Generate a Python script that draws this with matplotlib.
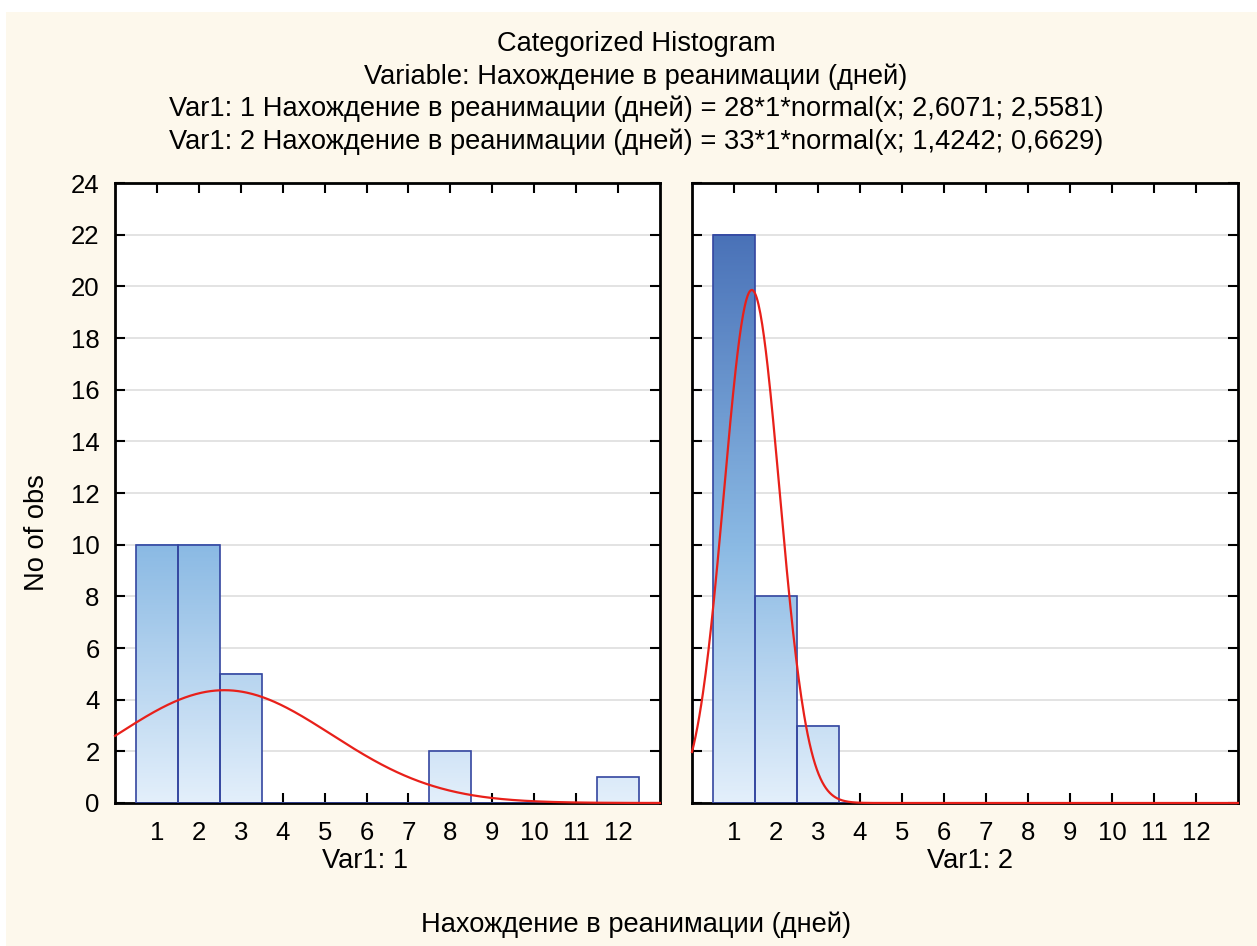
import matplotlib
matplotlib.use('Agg')
import matplotlib.pyplot as plt
from matplotlib.colors import LinearSegmentedColormap
from matplotlib.patches import Rectangle
import numpy as np

plt.rcParams['font.family'] = ['Liberation Sans', 'DejaVu Sans']

# data
days = [1, 2, 3, 4, 5, 6, 7, 8, 9, 10, 11, 12]
counts_1 = [10, 10, 5, 0, 0, 0, 0, 2, 0, 0, 0, 1]
counts_2 = [22, 8, 3, 0, 0, 0, 0, 0, 0, 0, 0, 0]
# fitted normal curves (n, mean, sd) as printed in the title
fit_1 = (28, 2.6071, 2.5581)
fit_2 = (33, 1.4242, 0.6629)
panel_labels = ['Var1: 1', 'Var1: 2']
title_lines = [
    'Categorized Histogram',
    'Variable: Нахождение в реанимации (дней)',
    'Var1: 1 Нахождение в реанимации (дней) = 28*1*normal(x; 2,6071; 2,5581)',
    'Var1: 2 Нахождение в реанимации (дней) = 33*1*normal(x; 1,4242; 0,6629)',
]

W, H = 1257, 946
FS = 19.6
fig = plt.figure(figsize=(W / 100, H / 100), dpi=100, facecolor='white')
# cream panel (white strip on top and left like the original)
fig.patches.append(Rectangle((6 / W, 0), 1 - 6 / W, 1 - 12 / H, transform=fig.transFigure,
                             facecolor='#fdf8ec', edgecolor='none', zorder=-10))

cmap = LinearSegmentedColormap.from_list('bars', [(0, '#e3effb'), (0.45, '#8bbae4'), (1.0, '#4a72b8')])

def norm_curve(x, n, m, s):
    return n * np.exp(-0.5 * ((x - m) / s) ** 2) / (s * np.sqrt(2 * np.pi))

def panel(rect, counts, fit, label, label_x, show_y):
    ax = fig.add_axes(rect)
    ax.set_facecolor('white')
    ax.yaxis.grid(True, color='#dedede', lw=1.2, zorder=0)
    ax.set_axisbelow(True)
    for d, c in zip(days, counts):
        if c == 0:
            continue
        grad = np.linspace(0, c, 200).reshape(-1, 1)
        ax.imshow(grad, cmap=cmap, vmin=0, vmax=22, extent=[d - 0.5, d + 0.5, 0, c],
                  origin='lower', aspect='auto', zorder=2, interpolation='bilinear')
    ax.bar(days, counts, width=1.0, fill=False, edgecolor='#3446a0', lw=1.2, zorder=3)
    xs = np.linspace(0, 13, 600)
    ax.plot(xs, norm_curve(xs, *fit), color='#e8201a', lw=1.6, zorder=4, clip_on=False)
    ax.set_xlim(0, 13)
    ax.set_ylim(0, 24)
    ax.set_xticks(days)
    ax.set_yticks(range(0, 25, 2))
    ax.tick_params(direction='in', length=7, width=1.5, top=True, right=True,
                   labelsize=18.5, colors='black')
    ax.tick_params(axis='x', pad=13)
    ax.tick_params(axis='y', pad=11)
    if not show_y:
        ax.tick_params(labelleft=False)
    for s in ax.spines.values():
        s.set_linewidth(2)
        s.set_color('black')
    fig.text(label_x / W, 1 - 861 / H, label, ha='center', va='center', fontsize=FS)
    return ax

ax1 = panel([115 / W, 1 - 803 / H, 545 / W, 620 / H], counts_1, fit_1, panel_labels[0], 365, True)
ax2 = panel([692 / W, 1 - 803 / H, 546 / W, 620 / H], counts_2, fit_2, panel_labels[1], 970, False)
fig.text(37 / W, 1 - 533 / H, 'No of obs', rotation=90, ha='center', va='center', fontsize=FS)

for i, t in enumerate(title_lines):
    fig.text(636 / W, 1 - (44 + i * 32.5) / H, t, ha='center', va='center', fontsize=FS)
fig.text(636 / W, 1 - 925 / H, 'Нахождение в реанимации (дней)', ha='center', va='center', fontsize=FS)

plt.savefig('out.png', dpi=100, facecolor=fig.get_facecolor())
